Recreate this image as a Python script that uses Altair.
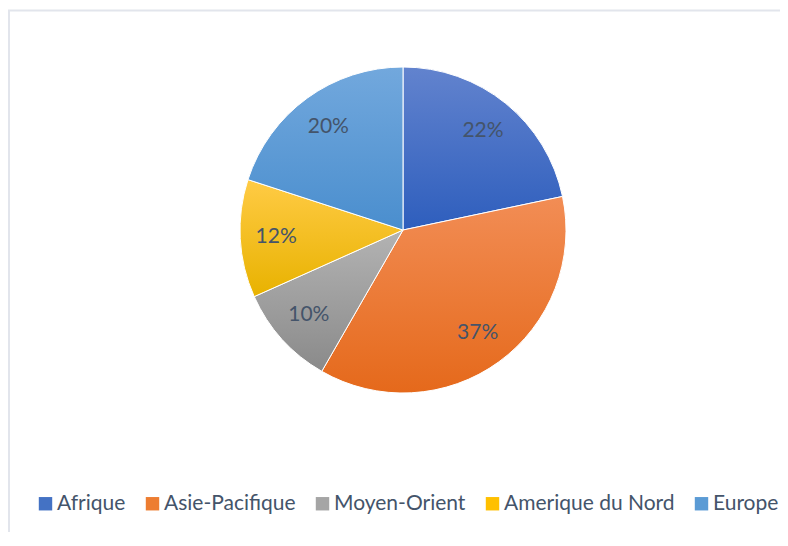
import altair as alt
import pandas as pd

regions = ["Afrique", "Asie-Pacifique", "Moyen-Orient", "Amerique du Nord", "Europe"]
values = [21.7, 36.6, 10.0, 11.7, 20.0]
labels = ["22%", "37%", "10%", "12%", "20%"]
flat_colors = ["#4472C4", "#ED7D31", "#A5A5A5", "#FFC000", "#5B9BD5"]
top_colors = ["#6283CE", "#F28D55", "#B3B3B3", "#FFCB45", "#72A8DD"]
bottom_colors = ["#2E5EBD", "#E5691B", "#8A8A8A", "#E8B200", "#4A8ECE"]

df = pd.DataFrame({"region": regions, "value": values, "label": labels,
                   "order": list(range(len(regions)))})

total = sum(values)
theta_scale = alt.Scale(domain=[0, total])
R = 163

base = (alt.Chart(df)
        .transform_window(cum="sum(value)", sort=[alt.SortField("order")], frame=[None, 0])
        .transform_calculate(start="datum.cum - datum.value",
                             mid="datum.cum - datum.value / 2"))

frame = alt.Chart(pd.DataFrame({"a": [0]})).mark_rect(
    fill="white", stroke="#E2E5EC", strokeWidth=2
).encode(x=alt.value(-17), y=alt.value(2.5), x2=alt.value(1000), y2=alt.value(1000))

flat = base.mark_arc(outerRadius=R, stroke="white", strokeWidth=1).encode(
    theta=alt.Theta("start:Q", scale=theta_scale),
    theta2="cum:Q",
    color=alt.Color("region:N",
                    scale=alt.Scale(domain=regions, range=flat_colors),
                    sort=regions,
                    legend=alt.Legend(orient="none", legendX=9, legendY=485,
                                      direction="horizontal", title=None,
                                      symbolType="square", symbolSize=180,
                                      symbolStrokeWidth=0,
                                      labelFont="Lato", labelFontSize=21,
                                      labelColor="#44546A", labelOffset=1,
                                      columnPadding=16, padding=0,
                                      labelLimit=400)),
)

grad_layers = []
for r, t, b in zip(regions, top_colors, bottom_colors):
    grad = alt.Gradient(gradient="linear",
                        stops=[alt.GradientStop(color=t, offset=0),
                               alt.GradientStop(color=b, offset=1)],
                        x1=0, x2=0, y1=0, y2=1)
    grad_layers.append(
        base.transform_filter(alt.datum.region == r)
        .mark_arc(outerRadius=R, fill=grad, stroke="white", strokeWidth=1)
        .encode(theta=alt.Theta("start:Q", scale=theta_scale), theta2="cum:Q")
    )

text = base.mark_text(radius=127, font="Lato", fontSize=21, color="#44546A").encode(
    theta=alt.Theta("mid:Q", scale=theta_scale),
    text="label:N",
)

chart = alt.layer(frame, flat, *grad_layers, text).properties(
    width=754, height=444,
    autosize=alt.AutoSizeParams(type="none"),
    padding={"left": 18, "top": 0, "right": 0, "bottom": 80},
).configure_view(stroke=None)

chart.save("out.html", embed_options={"renderer": "svg", "actions": False})
